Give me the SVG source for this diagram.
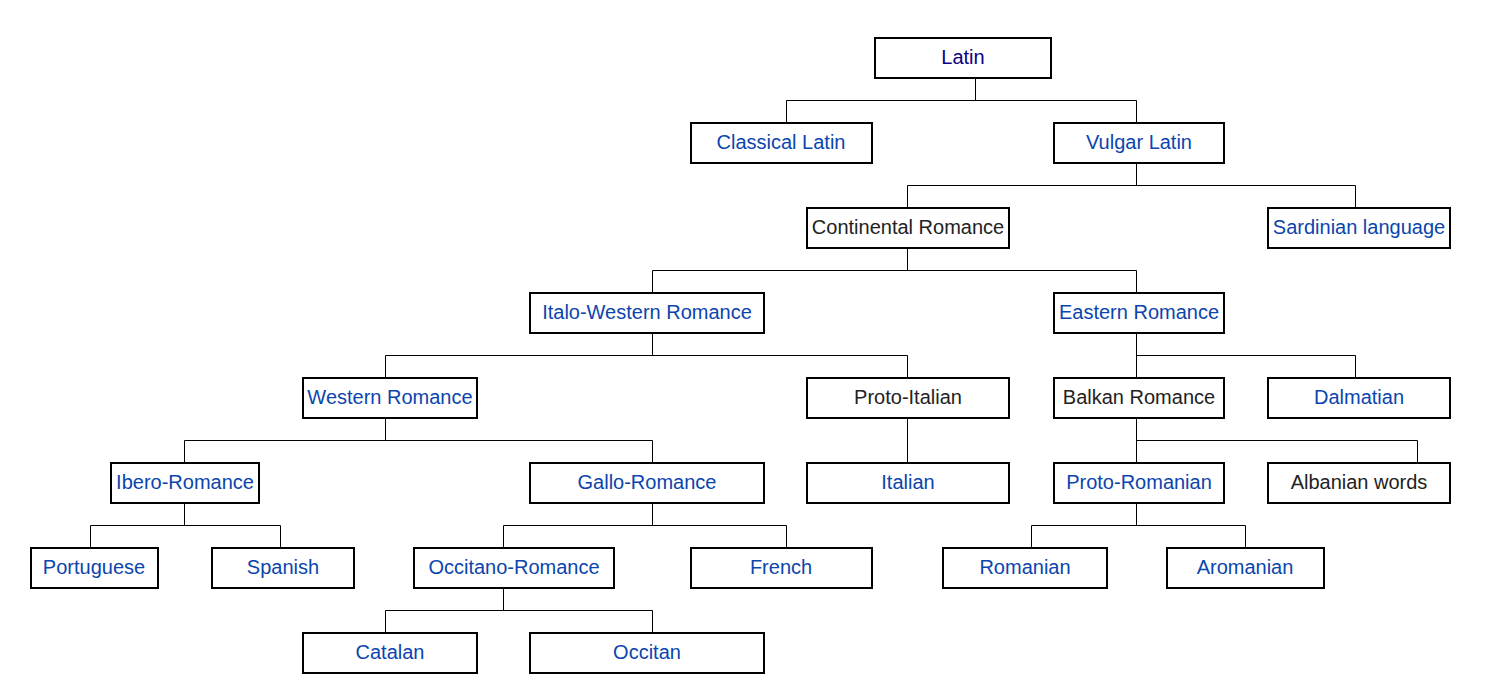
<svg xmlns="http://www.w3.org/2000/svg" width="1488" height="694" viewBox="0 0 1488 694">
<style>
.box{fill:#fff;stroke:#000;stroke-width:2}
.t{font-family:"Liberation Sans",Arial,sans-serif;font-size:20px;text-anchor:middle}
.l{fill:#0b45ad}
.v{fill:#0b0080}
.k{fill:#222}
.c{fill:none;stroke:#000;stroke-width:1}
</style>
<rect width="1488" height="694" fill="#fff"/>
<g id="connectors" class="c">
<path d="M975.5 79V100.5M786.5 122V100.5H1136.5V122"/>
<path d="M1136.5 164V185.5M907.5 207V185.5H1355.5V207"/>
<path d="M907.5 249V270.5M652.5 292V270.5H1136.5V292"/>
<path d="M652.5 334V355.5M385.5 377V355.5H907.5V377"/>
<path d="M1136.5 334V377M1136.5 355.5H1355.5V377"/>
<path d="M385.5 419V440.5M184.5 462V440.5H652.5V462"/>
<path d="M907.5 419V462"/>
<path d="M1136.5 419V462M1136.5 440.5H1417.5V462"/>
<path d="M184.5 504V525.5M90.5 547V525.5H280.5V547"/>
<path d="M652.5 504V525.5M503.5 547V525.5H786.5V547"/>
<path d="M1136.5 504V525.5M1031.5 547V525.5H1245.5V547"/>
<path d="M503.5 589V610.5M385.5 632V610.5H652.5V632"/>
</g>
<g id="latin"><rect class="box" x="875" y="38" width="176" height="40"/><text class="t v" x="963" y="64">Latin</text></g>
<g id="classical-latin"><rect class="box" x="691" y="123" width="181" height="40"/><text class="t l" x="781" y="149">Classical Latin</text></g>
<g id="vulgar-latin"><rect class="box" x="1054" y="123" width="170" height="40"/><text class="t l" x="1139" y="149">Vulgar Latin</text></g>
<g id="continental-romance"><rect class="box" x="807" y="208" width="202" height="40"/><text class="t k" x="908" y="234">Continental Romance</text></g>
<g id="sardinian"><rect class="box" x="1268" y="208" width="182" height="40"/><text class="t l" x="1359" y="234">Sardinian language</text></g>
<g id="italo-western"><rect class="box" x="530" y="293" width="234" height="40"/><text class="t l" x="647" y="319">Italo-Western Romance</text></g>
<g id="eastern-romance"><rect class="box" x="1054" y="293" width="170" height="40"/><text class="t l" x="1139" y="319">Eastern Romance</text></g>
<g id="western-romance"><rect class="box" x="303" y="378" width="174" height="40"/><text class="t l" x="390" y="404">Western Romance</text></g>
<g id="proto-italian"><rect class="box" x="807" y="378" width="202" height="40"/><text class="t k" x="908" y="404">Proto-Italian</text></g>
<g id="balkan-romance"><rect class="box" x="1054" y="378" width="170" height="40"/><text class="t k" x="1139" y="404">Balkan Romance</text></g>
<g id="dalmatian"><rect class="box" x="1268" y="378" width="182" height="40"/><text class="t l" x="1359" y="404">Dalmatian</text></g>
<g id="ibero-romance"><rect class="box" x="111" y="463" width="148" height="40"/><text class="t l" x="185" y="489">Ibero-Romance</text></g>
<g id="gallo-romance"><rect class="box" x="530" y="463" width="234" height="40"/><text class="t l" x="647" y="489">Gallo-Romance</text></g>
<g id="italian"><rect class="box" x="807" y="463" width="202" height="40"/><text class="t l" x="908" y="489">Italian</text></g>
<g id="proto-romanian"><rect class="box" x="1054" y="463" width="170" height="40"/><text class="t l" x="1139" y="489">Proto-Romanian</text></g>
<g id="albanian-words"><rect class="box" x="1268" y="463" width="182" height="40"/><text class="t k" x="1359" y="489">Albanian words</text></g>
<g id="portuguese"><rect class="box" x="31" y="548" width="127" height="40"/><text class="t l" x="94" y="574">Portuguese</text></g>
<g id="spanish"><rect class="box" x="212" y="548" width="142" height="40"/><text class="t l" x="283" y="574">Spanish</text></g>
<g id="occitano-romance"><rect class="box" x="414" y="548" width="200" height="40"/><text class="t l" x="514" y="574">Occitano-Romance</text></g>
<g id="french"><rect class="box" x="691" y="548" width="181" height="40"/><text class="t l" x="781" y="574">French</text></g>
<g id="romanian"><rect class="box" x="943" y="548" width="164" height="40"/><text class="t l" x="1025" y="574">Romanian</text></g>
<g id="aromanian"><rect class="box" x="1167" y="548" width="157" height="40"/><text class="t l" x="1245" y="574">Aromanian</text></g>
<g id="catalan"><rect class="box" x="303" y="633" width="174" height="40"/><text class="t l" x="390" y="659">Catalan</text></g>
<g id="occitan"><rect class="box" x="530" y="633" width="234" height="40"/><text class="t l" x="647" y="659">Occitan</text></g>
</svg>
